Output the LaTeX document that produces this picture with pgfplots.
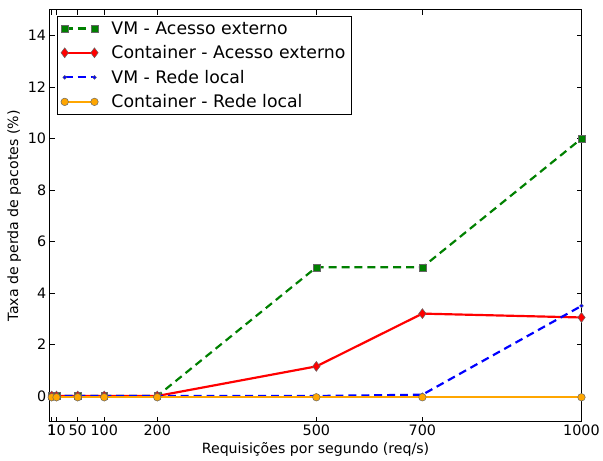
\documentclass[border=0pt]{standalone}
\usepackage{pgfplots}
\pgfplotsset{compat=1.18}
\usepackage{fontspec}
\setmainfont{DejaVu Sans}
\usetikzlibrary{calc}
\definecolor{mgreen}{rgb}{0,0.5,0}
\definecolor{morange}{rgb}{1,0.65,0}
\begin{document}
\begin{tikzpicture}[x=1bp,y=1bp]
\begin{axis}[
  name=ax,
  scale only axis,
  width=536bp, height=415bp,
  xmin=-3, xmax=1000, ymin=-1, ymax=15,
  xtick={1,10,50,100,200,500,700,1000},
  ytick={0,2,...,14},
  tick align=inside,
  tick pos=both,
  major tick length=5bp,
  tick style={black, line width=0.5pt},
  axis line style={black, line width=0.9pt},
  /pgf/number format/assume math mode=true,
  /pgf/number format/set thousands separator={},
  ticklabel style={font=\fontsize{14.5}{17}\selectfont},
  xlabel={Requisições por segundo (req/s)},
  ylabel={Taxa de perda de pacotes (\%)},
  label style={font=\fontsize{14.3}{17}\selectfont},
  legend cell align=left,
  legend style={font=\fontsize{17.5}{21}\selectfont, draw=black, line width=0.9pt, inner xsep=4bp, inner ysep=3bp, row sep=6bp, at={(0.013,0.985)}, anchor=north west},
  legend image code/.code={
    \path (-2bp,0bp) (44bp,0bp);
    \draw[#1] plot coordinates {(0bp,0bp) (30bp,0bp)};
  },
]
\addplot[mgreen, dashed, dash pattern=on 8bp off 5bp, line width=2.2bp, mark=square*, mark size=3.5bp, mark options={solid, fill=mgreen, draw=black!60, line width=0.5pt}]
  coordinates {(1,0) (10,0) (50,0) (100,0) (200,0) (500,5) (700,5) (1000,10)};
\addlegendentry{VM - Acesso externo}
\addplot[red, solid, line width=2.2bp, mark=diamond*, mark size=5bp, mark options={solid, fill=red, draw=black!60, line width=0.5pt}]
  coordinates {(1,0) (10,0) (50,0) (100,0) (200,0) (500,1.15) (700,3.2) (1000,3.05)};
\addlegendentry{Container - Acesso externo}
\addplot[blue, dashed, dash pattern=on 8bp off 5bp, line width=2.2bp, mark=*, mark size=2bp, mark options={solid, fill=blue, draw=black!60, line width=0.3pt}]
  coordinates {(1,0) (10,0) (50,0) (100,0) (200,0) (500,0) (700,0.05) (1000,3.5)};
\addlegendentry{VM - Rede local}
\addplot[morange, solid, line width=2.2bp, mark=*, mark size=3.8bp, mark options={solid, fill=morange, draw=black!60, line width=0.5pt}]
  coordinates {(1,-0.05) (10,-0.05) (50,-0.05) (100,-0.05) (200,-0.05) (500,-0.05) (700,-0.05) (1000,-0.05)};
\addlegendentry{Container - Rede local}
\end{axis}
\useasboundingbox ($(ax.south west)+(-50bp,-38bp)$) rectangle ($(ax.north east)+(17bp,10bp)$);
\end{tikzpicture}
\end{document}
